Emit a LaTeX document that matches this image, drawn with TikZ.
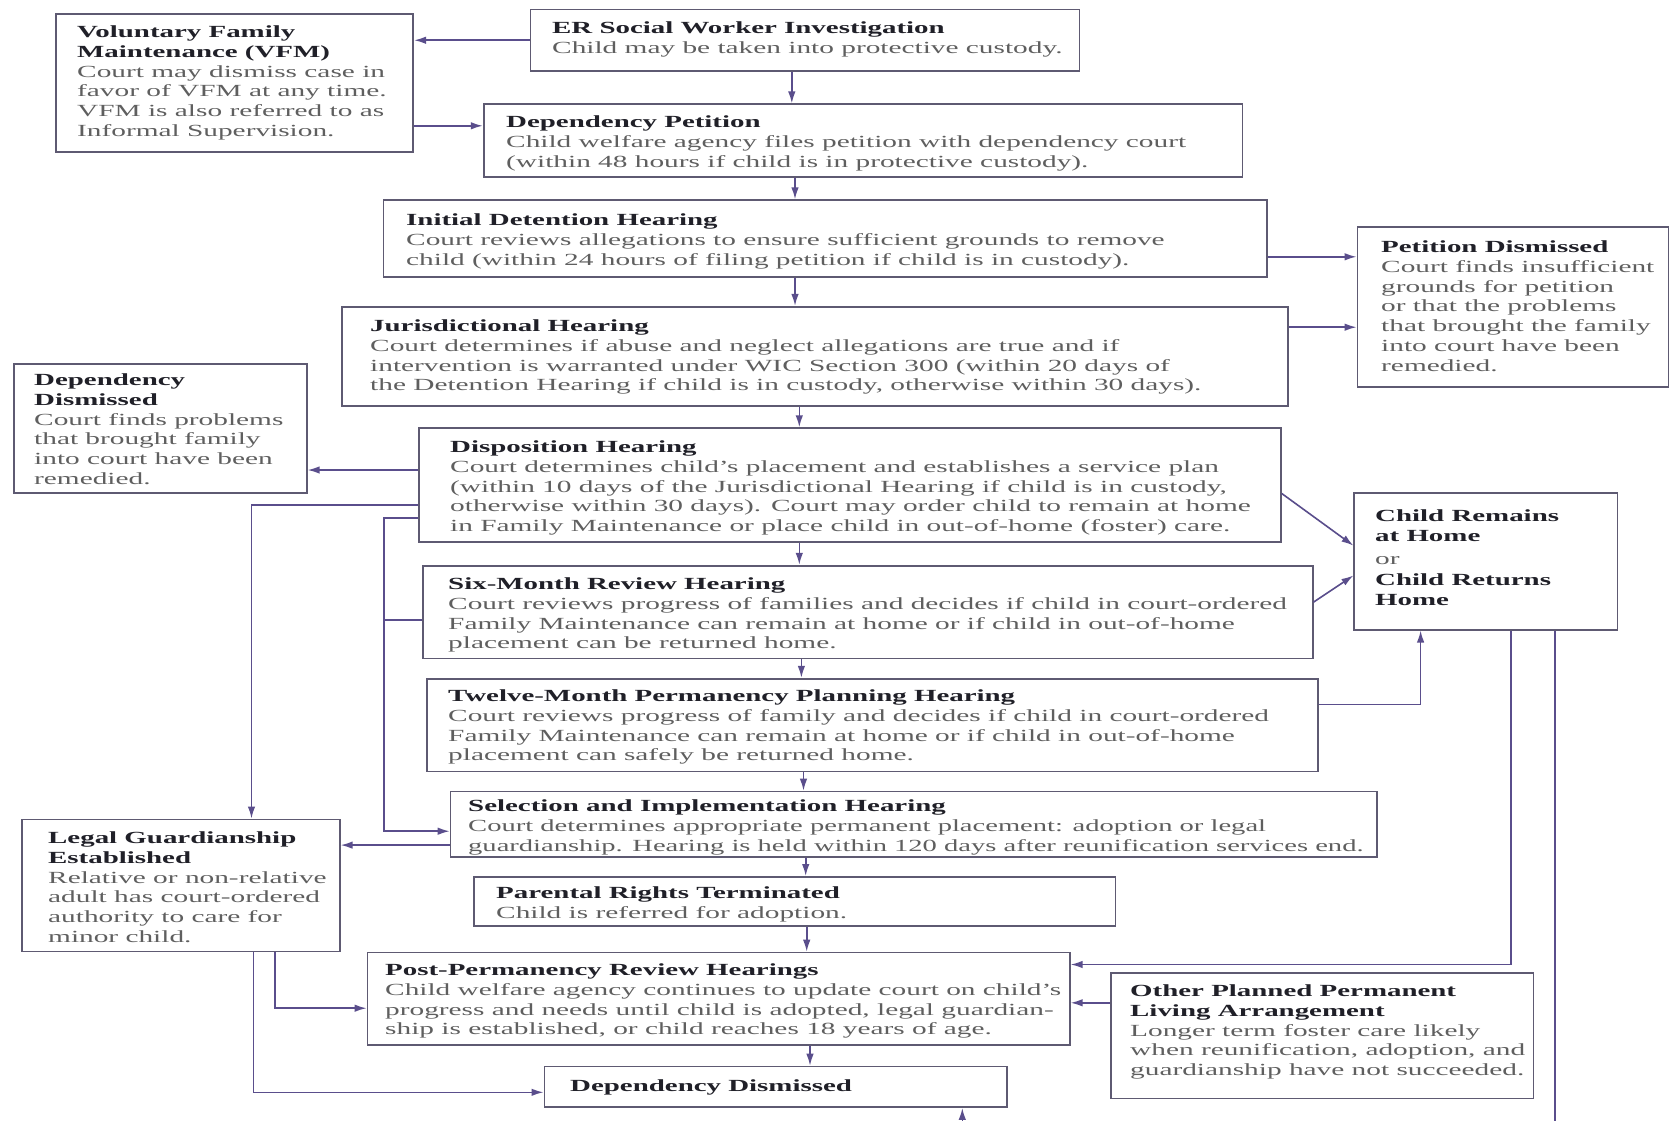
\documentclass[tikz,border=0pt]{standalone}
\usepackage{fontspec}
\setmainfont{Liberation Serif}[FakeStretch=1.725]
\newfontfamily\titlefam{Liberation Serif}[FakeStretch=1.70]
\newfontfamily\selfam{Liberation Serif}[FakeStretch=1.68]
\usetikzlibrary{arrows.meta}
\definecolor{linec}{HTML}{5A4E8C}
\definecolor{boxc}{HTML}{5E5A72}
\definecolor{bodyc}{HTML}{5F5F5F}
\definecolor{titlec}{HTML}{202028}
\newcommand{\ttl}[1]{{\titlefam\bfseries\color{titlec}#1}}
\begin{document}
\begin{tikzpicture}[x=1pt,y=-1pt,
  box/.style={draw=boxc, line width=1.7pt, anchor=north west, inner sep=0pt},
  txt/.style={anchor=north west, inner sep=0pt, align=left, text=bodyc, font=\fontsize{17}{19.8}\selectfont},
  arr/.style={draw=linec, line width=1.6pt, -{Latex[length=12pt,width=7.5pt]}},
  ln/.style={draw=linec, line width=1.6pt}]
\useasboundingbox[fill=white] (0,0) rectangle (1671,1120);

% boxes
\node[box, minimum width=357pt, minimum height=138.5pt] (vfm) at (55.4,12.8) {};
\node[box, minimum width=548.8pt, minimum height=61.8pt] (er) at (529.7,8.5) {};
\node[box, minimum width=758.7pt, minimum height=72.4pt] (deppet) at (482.8,103.4) {};
\node[box, minimum width=883.5pt, minimum height=76.7pt] (initial) at (382.6,199.3) {};
\node[box, minimum width=946.3pt, minimum height=99.1pt] (juris) at (341,305.9) {};
\node[box, minimum width=311pt, minimum height=159.9pt] (pd) at (1356.6,225.9) {};
\node[box, minimum width=293.1pt, minimum height=129pt] (depdis) at (12.8,363.4) {};
\node[box, minimum width=862.1pt, minimum height=114.1pt] (disp) at (417.8,427.3) {};
\node[box, minimum width=263.3pt, minimum height=136.4pt] (child) at (1353.4,492.4) {};
\node[box, minimum width=889.9pt, minimum height=92.7pt] (six) at (422,564.8) {};
\node[box, minimum width=890.9pt, minimum height=92.7pt] (twelve) at (426.3,677.8) {};
\node[box, minimum width=926.1pt, minimum height=65.1pt] (sel) at (449.7,790.7) {};
\node[box, minimum width=317.6pt, minimum height=132.1pt] (lg) at (21.3,818.5) {};
\node[box, minimum width=641.5pt, minimum height=49pt] (parental) at (473.2,876) {};
\node[box, minimum width=702.3pt, minimum height=92.7pt] (post) at (366.6,951.7) {};
\node[box, minimum width=422.1pt, minimum height=125.7pt] (other) at (1110.4,971.9) {};
\node[box, minimum width=462.5pt, minimum height=40.5pt] (ddb) at (543.5,1065.7) {};

% texts
\node[txt] (vfm-t) at (77,25.5) {\ttl{Voluntary Family}\\\ttl{Maintenance (VFM)}\\Court may dismiss case in\\favor of VFM at any time.\\VFM is also referred to as\\Informal Supervision.};
\node[txt] (er-t) at (552,21.5) {\ttl{ER Social Worker Investigation}\\Child may be taken into protective custody.};
\node[txt] (deppet-t) at (506,115.5) {\ttl{Dependency Petition}\\Child welfare agency files petition with dependency court\\(within 48 hours if child is in protective custody).};
\node[txt] (initial-t) at (406,213.5) {\ttl{Initial Detention Hearing}\\Court reviews allegations to ensure sufficient grounds to remove\\child (within 24 hours of filing petition if child is in custody).};
\node[txt] (juris-t) at (370,319.5) {\ttl{Jurisdictional Hearing}\\Court determines if abuse and neglect allegations are true and if\\intervention is warranted under WIC Section 300 (within 20 days of\\the Detention Hearing if child is in custody, otherwise within 30 days).};
\node[txt] (pd-t) at (1381,240.5) {\ttl{Petition Dismissed}\\Court finds insufficient\\grounds for petition\\or that the problems\\that brought the family\\into court have been\\remedied.};
\node[txt] (depdis-t) at (34,373.5) {\ttl{Dependency}\\\ttl{Dismissed}\\Court finds problems\\that brought family\\into court have been\\remedied.};
\node[txt] (disp-t) at (450,440.5) {\ttl{Disposition Hearing}\\Court determines child's placement and establishes a service plan\\(within 10 days of the Jurisdictional Hearing if child is in custody,\\otherwise within 30 days). Court may order child to remain at home\\in Family Maintenance or place child in out-of-home (foster) care.};
\node[txt] (child-t) at (1375,509.5) {\ttl{Child Remains}\\\ttl{at Home}\\[3pt]or\\[2pt]\ttl{Child Returns}\\\ttl{Home}};
\node[txt] (six-t) at (448,577.5) {\ttl{Six-Month Review Hearing}\\Court reviews progress of families and decides if child in court-ordered\\Family Maintenance can remain at home or if child in out-of-home\\placement can be returned home.};
\node[txt] (twelve-t) at (448,689.5) {\ttl{Twelve-Month Permanency Planning Hearing}\\Court reviews progress of family and decides if child in court-ordered\\Family Maintenance can remain at home or if child in out-of-home\\placement can safely be returned home.};
\node[txt] (sel-t) at (468,799.5) {\ttl{Selection and Implementation Hearing}\\{\selfam Court determines appropriate permanent placement: adoption or legal}\\{\selfam guardianship. Hearing is held within 120 days after reunification services end.}};
\node[txt] (lg-t) at (48,831.5) {\ttl{Legal Guardianship}\\\ttl{Established}\\Relative or non-relative\\adult has court-ordered\\authority to care for\\minor child.};
\node[txt] (parental-t) at (496,886.5) {\ttl{Parental Rights Terminated}\\Child is referred for adoption.};
\node[txt] (post-t) at (385,963.5) {\ttl{Post-Permanency Review Hearings}\\Child welfare agency continues to update court on child's\\progress and needs until child is adopted, legal guardian-\\ship is established, or child reaches 18 years of age.};
\node[txt] (other-t) at (1130,984.5) {\ttl{Other Planned Permanent}\\\ttl{Living Arrangement}\\Longer term foster care likely\\when reunification, adoption, and\\guardianship have not succeeded.};
\node[txt] (ddb-t) at (570,1079.5) {\ttl{Dependency Dismissed}};

% helper coordinates
\coordinate (y126) at (0,125.8);
\coordinate (y257) at (0,256.8);
\coordinate (y327) at (0,327.2);
\coordinate (y470) at (0,470);
\coordinate (y493) at (0,493.4);
\coordinate (y546) at (0,545.6);
\coordinate (y602) at (0,602.1);
\coordinate (y575) at (0,575.5);
\coordinate (y704) at (0,704.4);
\coordinate (y505) at (0,505.1);
\coordinate (y518) at (0,517.9);
\coordinate (y620) at (0,620.2);
\coordinate (y831) at (0,831.2);
\coordinate (y845) at (0,845.1);
\coordinate (y1008) at (0,1008.2);
\coordinate (y1092) at (0,1092.3);
\coordinate (y964) at (0,964.5);
\coordinate (y1003) at (0,1002.8);
\coordinate (ybelow) at (0,1140);
\coordinate (x792) at (791.8,0);
\coordinate (x795) at (795,0);
\coordinate (x799) at (799.3,0);
\coordinate (x801) at (801.4,0);
\coordinate (x803) at (803.5,0);
\coordinate (x806) at (805.7,0);
\coordinate (x807) at (806.7,0);
\coordinate (x810) at (810,0);
\coordinate (x1421) at (1420.6,0);
\coordinate (x251) at (251.5,0);
\coordinate (x384) at (383.7,0);
\coordinate (x275) at (275,0);
\coordinate (x254) at (253.6,0);
\coordinate (x1511) at (1511.2,0);
\coordinate (x1555) at (1554.9,0);
\coordinate (x962) at (962.3,0);

% connectors
\draw[arr] (er.west) -- (vfm.east |- er.west);
\draw[arr] (vfm.east |- y126) -- (deppet.west |- y126);
\draw[arr] (x792 |- er.south) -- (x792 |- deppet.north);
\draw[arr] (x795 |- deppet.south) -- (x795 |- initial.north);
\draw[arr] (x795 |- initial.south) -- (x795 |- juris.north);
\draw[arr] (initial.east |- y257) -- (pd.west |- y257);
\draw[arr] (juris.east |- y327) -- (pd.west |- y327);
\draw[arr] (x799 |- juris.south) -- (x799 |- disp.north);
\draw[arr] (disp.west |- y470) -- (depdis.east |- y470);
\draw[arr] (x799 |- disp.south) -- (x799 |- six.north);
\draw[arr] (x801 |- six.south) -- (x801 |- twelve.north);
\draw[arr] (x803 |- twelve.south) -- (x803 |- sel.north);
\draw[arr] (x806 |- sel.south) -- (x806 |- parental.north);
\draw[arr] (x807 |- parental.south) -- (x807 |- post.north);
\draw[arr] (x810 |- post.south) -- (x810 |- ddb.north);
\draw[arr] (disp.east |- y493) -- (child.west |- y546);
\draw[arr] (six.east |- y602) -- (child.west |- y575);
\draw[arr] (twelve.east |- y704) -- (x1421 |- y704) -- (x1421 |- child.south);
\draw[arr] (disp.west |- y505) -- (x251 |- y505) -- (x251 |- lg.north);
\draw[arr] (disp.west |- y518) -- (x384 |- y518) -- (x384 |- y831) -- (sel.west |- y831);
\draw[ln] (six.west |- y620) -- (x384 |- y620);
\draw[arr] (sel.west |- y845) -- (lg.east |- y845);
\draw[arr] (x275 |- lg.south) -- (x275 |- y1008) -- (post.west |- y1008);
\draw[arr] (x254 |- lg.south) -- (x254 |- y1092) -- (ddb.west |- y1092);
\draw[arr] (x1511 |- child.south) -- (x1511 |- y964) -- (post.east |- y964);
\draw[arr] (other.west |- y1003) -- (post.east |- y1003);
\draw[arr] (x1555 |- child.south) -- (x1555 |- ybelow) -- (x962 |- ybelow) -- (x962 |- ddb.south);
\end{tikzpicture}
\end{document}
